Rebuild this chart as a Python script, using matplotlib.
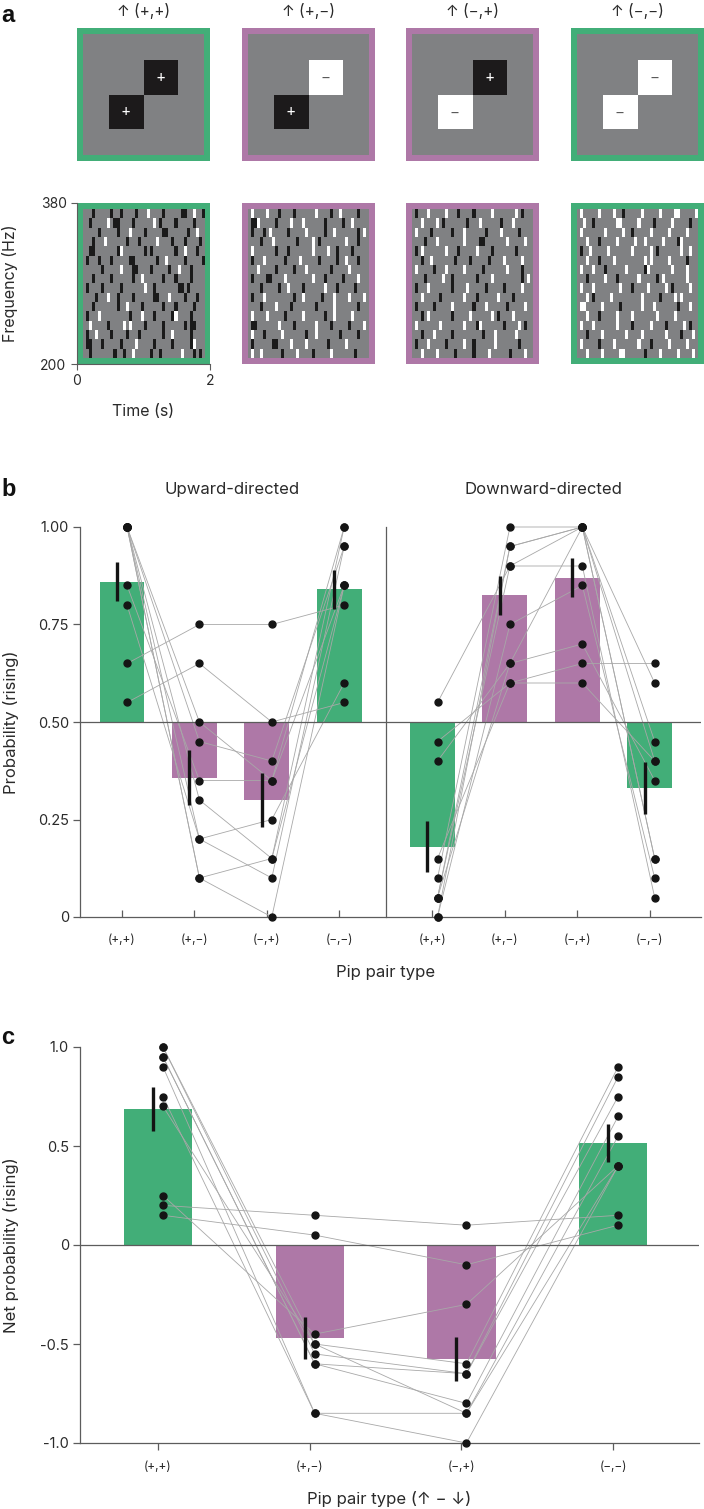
import matplotlib
matplotlib.use('Agg')
import matplotlib.pyplot as plt
from matplotlib.patches import Rectangle
from matplotlib.colors import ListedColormap
import numpy as np

# ---------------- data ----------------
pair_labels = ['(+,+)', '(+,−)', '(−,+)', '(−,−)']
icon_titles = ['↑ (+,+)', '↑ (+,−)', '↑ (−,+)', '↑ (−,−)']
pip_signs = [('+', '+'), ('+', '−'), ('−', '+'), ('−', '−')]

spec_pp = [
    "...b.....b..b....b...w....b.....bb..w..b",
    "..b.....w.bb....b......w.b....b.....b...",
    ".....b.....b...w....b.....bb......b..w..",
    "...b...w......b...b.....w....b...b....b.",
    "..bb.......bw.......b.b.......b..w...b..",
    ".b...b...b.....bb.......b..w.....b.....b",
    "......b.....w...bb....b.....b..w...b....",
    "...b.....b......b..w......b...b....b....",
    ".b....b.....b.......w..b.......bb.b.....",
    "....b...w..b....b......bb...w....b...b..",
    "...b.......b..w....b......b...b.....b...",
    ".b...w.........b...w...b.....bw....b....",
    "..w.....b....w.w....b.....b......b.bb...",
    ".b..w....b....b...b.......b..w.....b....",
    ".bb...b.....b....w.....b.....b.....bw...",
    "..b.......b..b..w.....b..b......w...b.b.",
]
spec_pm = [
    ".w....w...b....b......w....b..w.....b...",
    ".bbw.....b....w...w......b.....b..w.....",
    ".b...b.w.....b.....w.....b..w.......b.w.",
    "....b...w.......b....w.b........w...b...",
    ".w.......b...b.......w....w..b....b.....",
    ".b...w......b....w.....b.....b..w...b...",
    "...w.....b.....b...w.......b.....w......",
    ".b....bb....w........w...b.....b....w...",
    "....b.....b..w....b......w...b.....b....",
    ".b...w.........b..w.....b...w....w....w.",
    "....b....w....b.......b.....w.......b...",
    ".w....w.....b.....w......b..w.....w.....",
    ".bb.......w....b......w....b.....b....w.",
    ".w...b.....w.......b..w.......b.....b...",
    ".b......bb....w....w......b.....w.......",
    ".w..w......b....w....b.....w.......b....",
]
spec_mp = [
    ".b...w.....w...b....b.....w.......w.b...",
    "...w....w.b.......b...w......b...w......",
    ".w....b......b...w......b....w.....b....",
    "....b...w........w....bb.......w.....w..",
    ".b.w.......w...b.....w....b.......b.....",
    "...b..w.......b....b.....b....w.....w...",
    ".w.....b...w.....w.....b.......w....b...",
    "....b.....w..b.......b....w.........b.w.",
    ".b...w.......b....w.....b.....b.....w...",
    "...w.....b.......w...b......w....b......",
    ".b.....b.....w......b...w......b.....w..",
    "...b.w.......b.....w......w.b....w......",
    ".w.......w.......w...bw.......b....w.b..",
    "...b...w.....b.........b...w......w.....",
    ".b...w.....b.....w..b......w.......b....",
    "...w....w.....b.....b....w......b....w..",
]
spec_mm = [
    ".w.....w....w..b.....w.....w....ww.....w",
    "..w..b.......ww.....w....b.....w.....b..",
    ".w.......w.....w..b.....w.....w.....w...",
    "...w...b.....w.....w..w.....w....bw.....",
    ".b..w.....w.......w.....w.b.......w..w..",
    "...w...b....w.........w.w.....w.....b...",
    ".w...w...b......w.....bw.......w....w...",
    "...b.....w...b......w.....b.w.......w...",
    ".w...w........w...b....w.....w.b.....w..",
    "...w.b.....w.........w.....b....w.w.....",
    ".ww.....w.....b......w...w.......b...w..",
    "...w...b.....w....w.......w.....w.......",
    ".w...w.......w....b.....w....b.....w.b..",
    "...b....w.......w....w.......w....b...w.",
    ".w.....b....w.......w...b.....w.....w...",
    "...w....w.....ww......b....w.....w....w.",
]
spectrograms = [spec_pp, spec_pm, spec_mp, spec_mm]

# panel b: per-subject probability of "rising" (columns = pair types)
up_subj = [
    [0.65, 0.75, 0.75, 0.80],
    [0.55, 0.65, 0.50, 0.55],
    [1.00, 0.50, 0.35, 1.00],
    [1.00, 0.45, 0.40, 0.95],
    [0.85, 0.35, 0.35, 0.85],
    [1.00, 0.30, 0.15, 1.00],
    [0.80, 0.20, 0.25, 0.60],
    [1.00, 0.20, 0.10, 0.95],
    [1.00, 0.10, 0.15, 0.85],
    [1.00, 0.10, 0.00, 0.85],
]
down_subj = [
    [0.55, 0.90, 1.00, 0.45],
    [0.45, 0.60, 0.65, 0.65],
    [0.40, 0.65, 0.70, 0.35],
    [0.15, 0.60, 0.60, 0.40],
    [0.10, 1.00, 1.00, 0.15],
    [0.05, 0.95, 1.00, 0.60],
    [0.00, 0.75, 0.85, 0.10],
    [0.05, 0.90, 0.90, 0.05],
    [0.00, 0.95, 1.00, 0.40],
    [0.05, 0.65, 1.00, 0.15],
]
up_mean = [0.86, 0.357, 0.30, 0.84]
up_sem = [0.05, 0.07, 0.07, 0.05]
down_mean = [0.18, 0.825, 0.87, 0.33]
down_sem = [0.065, 0.05, 0.05, 0.067]

# panel c: net probability (up - down)
net_subj = [
    [0.20, 0.15, 0.10, 0.15],
    [0.15, 0.05, -0.10, 0.10],
    [0.25, -0.45, -0.30, 0.40],
    [1.00, -0.50, -0.60, 0.90],
    [1.00, -0.55, -0.65, 0.85],
    [0.95, -0.60, -0.65, 0.75],
    [0.95, -0.60, -0.80, 0.65],
    [0.90, -0.85, -0.85, 0.55],
    [0.75, -0.85, -1.00, 0.40],
    [0.70, -0.50, -0.85, 0.40],
]
net_mean = [0.688, -0.47, -0.575, 0.515]
net_sem = [0.112, 0.106, 0.112, 0.095]

# ---------------- style ----------------
W, H = 704, 1509
plt.rcParams['font.family'] = ['Inter', 'DejaVu Sans']
TXT = '#2a2a2a'
AXC = '#5c5c5c'
GREEN = '#42ae78'
PURPLE = '#ae78a7'
GRAYBG = '#808183'
LINEC = '#a8a8a8'
DOT = '#151515'

fig = plt.figure(figsize=(W / 100, H / 100), dpi=100)


def px(l, t, w, h):
    return [l / W, 1 - (t + h) / H, w / W, h / H]


def ftext(x, y, s, **kw):
    kw.setdefault('color', TXT)
    fig.text(x / W, 1 - y / H, s, **kw)


def frame_color(signs):
    return GREEN if signs[0] == signs[1] else PURPLE


colors = [frame_color(s) for s in pip_signs]

# ---------------- panel a ----------------
icon_lefts = [77, 242, 406, 571]
for i, (left, signs) in enumerate(zip(icon_lefts, pip_signs)):
    ax = fig.add_axes(px(left, 28, 133, 133))
    ax.set_xlim(0, 1)
    ax.set_ylim(0, 1)
    ax.axis('off')
    b = 6 / 133
    ax.add_patch(Rectangle((0, 0), 1, 1, color=colors[i], lw=0))
    ax.add_patch(Rectangle((b, b), 1 - 2 * b, 1 - 2 * b, color=GRAYBG, lw=0))
    s = 0.263
    for (x0, y0), sg in zip([(0.5 - s, 0.5 - s), (0.5, 0.5)], signs):
        fc = '#1c1a1b' if sg == '+' else '#ffffff'
        tc = '#ffffff' if sg == '+' else '#5a5a5a'
        ax.add_patch(Rectangle((x0, y0), s, s, color=fc, lw=0))
        ax.text(x0 + s / 2, y0 + s / 2, sg, color=tc, ha='center', va='center',
                fontsize=11)
    ftext(left + 66.5, 11, icon_titles[i], ha='center', va='center', fontsize=11)

cmap = ListedColormap([GRAYBG, '#1a1a1a', '#ffffff'])
code = {'.': 0, 'b': 1, 'w': 2}
for i, (left, spec) in enumerate(zip(icon_lefts, spectrograms)):
    ax = fig.add_axes(px(left, 203, 133, 161))
    grid = np.array([[code[c] for c in row.ljust(40, '.')[:40]] for row in spec])
    dx = 6 / 133 * 2
    dy = 6 / 161 * 180
    ax.set_facecolor(colors[i])
    ax.imshow(grid, cmap=cmap, vmin=0, vmax=2, aspect='auto', interpolation='nearest',
              extent=(dx, 2 - dx, 200 + dy, 380 - dy))
    ax.set_xlim(0, 2)
    ax.set_ylim(200, 380)
    for sp in ['top', 'right']:
        ax.spines[sp].set_visible(False)
    if i == 0:
        for sp in ['left', 'bottom']:
            ax.spines[sp].set_color(AXC)
            ax.spines[sp].set_linewidth(0.8)
        ax.set_xticks([0, 2])
        ax.set_xticklabels(['0', '2'])
        ax.set_yticks([200, 380])
        ax.set_yticklabels(['200', '380'])
        ax.tick_params(length=4.5, width=0.8, color=AXC, labelsize=10, labelcolor=TXT, pad=3)
    else:
        for sp in ['left', 'bottom']:
            ax.spines[sp].set_visible(False)
        ax.set_xticks([])
        ax.set_yticks([])

ftext(143, 412, 'Time (s)', ha='center', va='center', fontsize=11.5)
ftext(10, 283, 'Frequency (Hz)', ha='center', va='center', rotation=90, fontsize=11.5)

# ---------------- panel b ----------------
axb = fig.add_axes(px(80, 527, 621, 390))
xl = np.arange(4, dtype=float)
xr = np.arange(4, dtype=float) + 4.29
for xs, subj, means, sems in [(xl, up_subj, up_mean, up_sem),
                              (xr, down_subj, down_mean, down_sem)]:
    means = np.array(means)
    sems = np.array(sems)
    axb.bar(xs, means - 0.5, bottom=0.5, width=0.62, color=colors, zorder=1)
    for row in subj:
        axb.plot(xs + 0.07, row, color=LINEC, lw=0.6, zorder=2, clip_on=False)
    axb.vlines(xs - 0.07, means - sems, means + sems, color='#141414', lw=2.4, zorder=3)
    for row in subj:
        axb.plot(xs + 0.07, row, 'o', color=DOT, ms=5, zorder=4, clip_on=False)
axb.axhline(0.5, color=AXC, lw=0.9, zorder=2.5)
axb.plot([3.65, 3.65], [0, 1], color=AXC, lw=0.9, zorder=2.5, clip_on=False)
axb.set_xlim(-0.58, 8.0)
axb.set_ylim(0, 1)
for sp in ['top', 'right']:
    axb.spines[sp].set_visible(False)
for sp in ['left', 'bottom']:
    axb.spines[sp].set_color(AXC)
    axb.spines[sp].set_linewidth(0.9)
axb.set_yticks([0, 0.25, 0.5, 0.75, 1.0])
axb.set_yticklabels(['0', '0.25', '0.50', '0.75', '1.00'])
axb.set_xticks(np.concatenate([xl, xr]))
axb.set_xticklabels(pair_labels * 2)
axb.tick_params(axis='y', direction='out', length=5, width=0.9, color=AXC,
                labelsize=10.5, labelcolor=TXT, pad=3)
axb.tick_params(axis='x', direction='in', length=5, width=0.9, color=AXC,
                labelsize=8.5, labelcolor=TXT, pad=12)
ftext(232, 490, 'Upward-directed', ha='center', va='center', fontsize=12)
ftext(543, 490, 'Downward-directed', ha='center', va='center', fontsize=12)
ftext(386, 972, 'Pip pair type', ha='center', va='center', fontsize=12)
ftext(11, 722, 'Probability (rising)', ha='center', va='center', rotation=90, fontsize=12)

# ---------------- panel c ----------------
axc = fig.add_axes(px(80, 1047, 619, 396))
xc = np.arange(4, dtype=float)
nm = np.array(net_mean)
ns = np.array(net_sem)
axc.bar(xc, nm, width=0.45, color=colors, zorder=1)
for row in net_subj:
    axc.plot(xc + 0.033, row, color=LINEC, lw=0.6, zorder=2, clip_on=False)
axc.vlines(xc - 0.033, nm - ns, nm + ns, color='#141414', lw=2.4, zorder=3)
for row in net_subj:
    axc.plot(xc + 0.033, row, 'o', color=DOT, ms=5, zorder=4, clip_on=False)
axc.axhline(0, color=AXC, lw=0.9, zorder=2.5)
axc.set_xlim(-0.514, 3.566)
axc.set_ylim(-1, 1)
for sp in ['top', 'right']:
    axc.spines[sp].set_visible(False)
for sp in ['left', 'bottom']:
    axc.spines[sp].set_color(AXC)
    axc.spines[sp].set_linewidth(0.9)
axc.set_yticks([-1, -0.5, 0, 0.5, 1.0])
axc.set_yticklabels(['-1.0', '-0.5', '0', '0.5', '1.0'])
axc.set_xticks(xc)
axc.set_xticklabels(pair_labels)
axc.tick_params(axis='y', direction='out', length=5, width=0.9, color=AXC,
                labelsize=10.5, labelcolor=TXT, pad=3)
axc.tick_params(axis='x', direction='out', length=5, width=0.9, color=AXC,
                labelsize=8.5, labelcolor=TXT, pad=8)
ftext(389, 1499, 'Pip pair type (↑ − ↓)', ha='center', va='center', fontsize=12)
ftext(11, 1245, 'Net probability (rising)', ha='center', va='center', rotation=90, fontsize=12)

# panel letters
for lab, y in [('a', 16), ('b', 490), ('c', 1037)]:
    fig.text(1 / W, 1 - y / H, lab, fontsize=17, fontweight='bold', ha='left', va='center',
             color='#111111', family=['Liberation Sans', 'DejaVu Sans'])

fig.savefig('out.png', dpi=100)
